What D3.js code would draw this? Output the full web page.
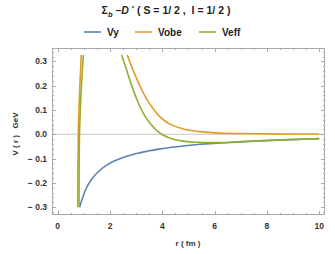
<!DOCTYPE html>
<html lang="en">
<head>
  <meta charset="UTF-8">
  <title>Sigma_b - D* potential</title>
  <style>
    body { margin: 0; background: #fff; }
    svg { font-family: "Liberation Sans", Arial, sans-serif; }
    .tick-label { font-size: 8.5px; font-weight: bold; fill: #333; }
    .axis-title { font-size: 8px; font-weight: bold; fill: #333; }
    .legend-text { font-size: 10px; font-weight: bold; fill: #222; }
  </style>
</head>
<body>
  <div id="chart"></div>
  <script src="https://d3js.org/d3.v7.min.js"></script>
  <script>
    // values: r in fm, V in GeV
    const vyR   = [0.84, 0.90, 0.97, 1.09, 1.29, 1.54, 1.86, 2.18, 2.56, 3.01, 3.45, 3.91, 4.55, 5.44, 6.21, 7, 8, 9, 10];
    const vyV   = [-0.30, -0.278, -0.257, -0.222, -0.186, -0.155, -0.128, -0.109, -0.093, -0.079, -0.069, -0.060, -0.051, -0.041, -0.036, -0.031, -0.026, -0.022, -0.018];

    // Vobe: steep inner branch and decaying outer branch
    const vobeR1 = [0.765, 0.788, 0.834, 0.90];
    const vobeV1 = [-0.30, 0.0, 0.162, 0.326];
    const vobeR2 = [2.66, 2.89, 3.15, 3.40, 3.66, 3.91, 4.29, 4.80, 5.44, 6.21, 7, 8, 9, 10];
    const vobeV2 = [0.326, 0.262, 0.198, 0.145, 0.104, 0.072, 0.042, 0.022, 0.011, 0.005, 0.003, 0.002, 0.0015, 0.001];

    // Veff: inner branch and outer branch
    const veffR1 = [0.815, 0.834, 0.89, 0.98];
    const veffV1 = [-0.30, 0.0, 0.162, 0.326];
    const veffR2 = [2.45, 2.64, 2.83, 3.02, 3.27, 3.53, 3.79, 4.04, 4.42, 4.80, 5.32, 6.21, 7, 8, 9, 10];
    const veffV2 = [0.326, 0.262, 0.200, 0.145, 0.087, 0.045, 0.015, -0.004, -0.020, -0.028, -0.033, -0.034, -0.030, -0.025, -0.021, -0.018];

    const seriesNames = ["Vy", "Vobe", "Veff"];
    const colors = ["#5E81B5", "#E19C24", "#8FB032"];
    const xTicks = [0, 2, 4, 6, 8, 10];
    const yTicks = [-0.3, -0.2, -0.1, 0.0, 0.1, 0.2, 0.3];

    const width = 335, height = 254;
    const frame = { left: 52, right: 325, top: 48, bottom: 215 };

    const x = d3.scaleLinear().domain([-0.218, 10.22]).range([frame.left, frame.right]);
    const y = d3.scaleLinear().domain([-0.332, 0.355]).range([frame.bottom, frame.top]);

    const svg = d3.select("#chart").append("svg")
      .attr("width", width)
      .attr("height", height);

    svg.append("defs").append("clipPath").attr("id", "plot-clip")
      .append("rect")
      .attr("x", frame.left).attr("y", frame.top)
      .attr("width", frame.right - frame.left)
      .attr("height", frame.bottom - frame.top);

    // zero axis line
    svg.append("line")
      .attr("x1", frame.left).attr("x2", frame.right)
      .attr("y1", y(0)).attr("y2", y(0))
      .attr("stroke", "#c8c8c8").attr("stroke-width", 1);

    // curves
    const line = d3.line()
      .x(d => x(d[0]))
      .y(d => y(d[1]))
      .curve(d3.curveCatmullRom.alpha(0.5));

    const zip = (a, b) => a.map((v, i) => [v, b[i]]);
    const curves = [
      { pts: zip(vyR, vyV), c: 0 },
      { pts: zip(vobeR1, vobeV1), c: 1 },
      { pts: zip(vobeR2, vobeV2), c: 1 },
      { pts: zip(veffR1, veffV1), c: 2 },
      { pts: zip(veffR2, veffV2), c: 2 }
    ];

    svg.append("g").attr("clip-path", "url(#plot-clip)")
      .selectAll("path")
      .data(curves)
      .enter().append("path")
      .attr("d", d => line(d.pts))
      .attr("fill", "none")
      .attr("stroke", d => colors[d.c])
      .attr("stroke-width", 1.6);

    // frame
    svg.append("rect")
      .attr("x", frame.left + 0.5).attr("y", frame.top + 0.5)
      .attr("width", frame.right - frame.left - 1)
      .attr("height", frame.bottom - frame.top - 1)
      .attr("fill", "none")
      .attr("stroke", "#a8a8a8").attr("stroke-width", 1);

    // ticks on all four sides, pointing inwards
    const tickG = svg.append("g").attr("stroke", "#a8a8a8").attr("stroke-width", 1);
    const xMinor = d3.range(0, 10.01, 0.5);
    const yMinor = d3.range(-0.32, 0.341, 0.02);
    xMinor.forEach(t => {
      const major = xTicks.some(m => Math.abs(m - t) < 1e-6);
      const len = major ? 4 : 2;
      const px = Math.round(x(t)) + 0.5;
      tickG.append("line").attr("x1", px).attr("x2", px)
        .attr("y1", frame.bottom).attr("y2", frame.bottom - len);
      tickG.append("line").attr("x1", px).attr("x2", px)
        .attr("y1", frame.top).attr("y2", frame.top + len);
    });
    yMinor.forEach(t => {
      const major = yTicks.some(m => Math.abs(m - t) < 1e-6);
      const len = major ? 4 : 2;
      const py = Math.round(y(t)) + 0.5;
      tickG.append("line").attr("y1", py).attr("y2", py)
        .attr("x1", frame.left).attr("x2", frame.left + len);
      tickG.append("line").attr("y1", py).attr("y2", py)
        .attr("x1", frame.right).attr("x2", frame.right - len);
    });

    // tick labels
    svg.append("g").selectAll("text")
      .data(xTicks)
      .enter().append("text")
      .attr("class", "tick-label")
      .attr("x", d => x(d))
      .attr("y", 229)
      .attr("text-anchor", "middle")
      .text(d => d);

    svg.append("g").selectAll("text")
      .data(yTicks)
      .enter().append("text")
      .attr("class", "tick-label")
      .attr("x", 47)
      .attr("y", d => y(d) + 3)
      .attr("text-anchor", "end")
      .text(d => d < 0 ? "\u2212 " + Math.abs(d).toFixed(1) : d.toFixed(1));

    // axis titles
    svg.append("text")
      .attr("class", "axis-title")
      .attr("x", 188).attr("y", 246)
      .attr("text-anchor", "middle")
      .text("r ( fm )");

    svg.append("text")
      .attr("class", "axis-title")
      .attr("transform", "translate(18,134) rotate(-90)")
      .attr("text-anchor", "middle")
      .attr("xml:space", "preserve")
      .text("V ( r )   GeV");

    // title
    const title = svg.append("text")
      .attr("x", 166).attr("y", 14)
      .attr("text-anchor", "middle")
      .attr("font-size", 10.5).attr("font-weight", "bold").attr("fill", "#222")
      .attr("xml:space", "preserve");
    title.append("tspan").text("\u03A3");
    title.append("tspan").attr("font-style", "italic").attr("font-size", 7.5).attr("dy", 2.5).text("b");
    title.append("tspan").attr("dy", -2.5).text(" \u2013");
    title.append("tspan").attr("font-style", "italic").text("D ");
    title.append("tspan").attr("font-size", 6).attr("dy", -4).text("*");
    title.append("tspan").attr("dy", 4).text(" ( S = 1/ 2 ,  I = 1/ 2 )");

    // legend
    const legendX = [84, 135, 199];
    const legend = svg.append("g").selectAll("g")
      .data(seriesNames)
      .enter().append("g")
      .attr("transform", (d, i) => `translate(${legendX[i]},32)`);
    legend.append("line")
      .attr("x1", 0).attr("x2", 17)
      .attr("y1", 0).attr("y2", 0)
      .attr("stroke", (d, i) => colors[i]).attr("stroke-width", 1.6);
    legend.append("text")
      .attr("class", "legend-text")
      .attr("x", 23).attr("y", 3.5)
      .text(d => d);
  </script>
</body>
</html>
